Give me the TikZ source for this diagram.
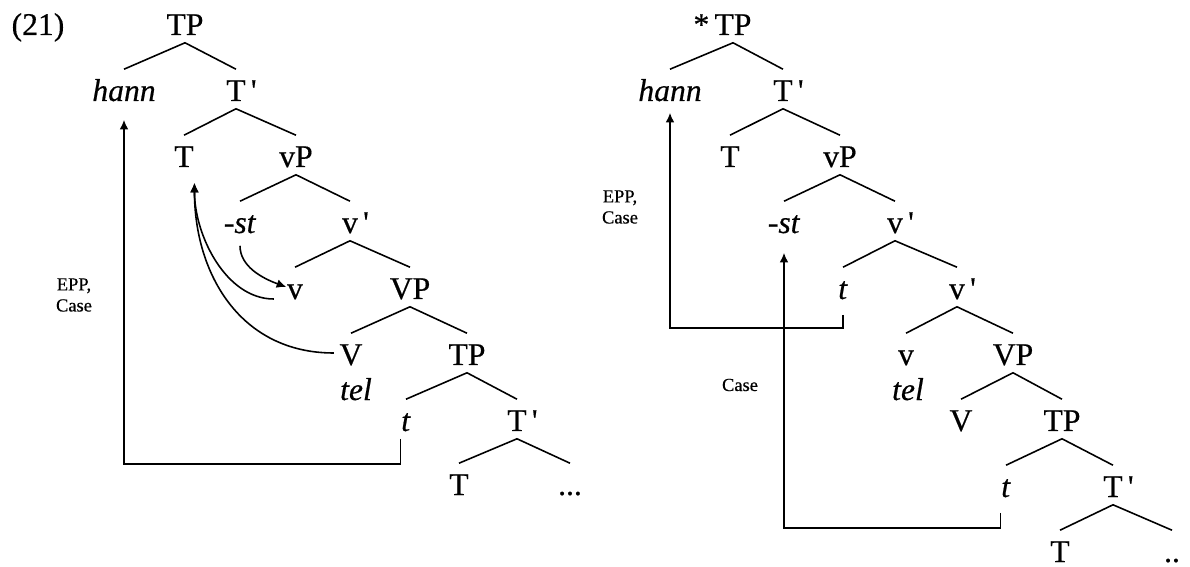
\documentclass[tikz,border=0pt]{standalone}
\usepackage{fontspec}
\setmainfont{Liberation Serif}[FakeBold=0.5]
\usetikzlibrary{arrows.meta}

\begin{document}
\begin{tikzpicture}[
			x=0.02cm, y=-0.02cm,
			cat/.style={inner sep=0pt, anchor=base, text height=0.62cm, text depth=0.14cm, font=\fontsize{18}{20}\selectfont},
			lab/.style={inner sep=0pt, align=center, font=\fontsize{10.5}{12}\selectfont},
			mov/.style={->, line width=0.9pt},
			>={Latex[length=5.5pt,width=5pt]},
			line width=0.9pt
			]
			
			\useasboundingbox (0,0) rectangle (1190,567);
			
			% Árvore da esquerda
			\node[cat] (exA) at (38,35) {(21)};
			\node[cat] (tpA) at (185,35) {TP};
			\node[cat] (hannA) at (124,101) {\textit{hann}};
			\node[cat] (tbA) at (236,101) {T\rlap{\,\textquotesingle}};
			\node[cat] (tA) at (184,167) {T};
			\node[cat] (vpA) at (296,167) {vP};
			\node[cat] (stA) at (240,233) {\textit{-st}};
			\node[cat] (vbA) at (350,233) {v\rlap{\,\textquotesingle}};
			\node[cat] (vA) at (295,299) {v};
			\node[cat] (VPA) at (410,299) {VP};
			\node[cat] (VA) at (351,365) {V};
			\node[cat] (tp2A) at (467,365) {TP};
			\node[cat] (telA) at (356,400) {\textit{tel}};
			\node[cat] (ttA) at (406,431) {\textit{t}};
			\node[cat] (tb2A) at (517,431) {T\rlap{\,\textquotesingle}};
			\node[cat] (t2A) at (459,495) {T};
			\node[cat] (dotsA) at (570,495) {...};
			
			% Ramos
			\draw (hannA.north) -- (tpA.south) -- (tbA.north);
			\draw (tA.north) -- (tbA.south) -- (vpA.north);
			\draw (stA.north) -- (vpA.south) -- (vbA.north);
			\draw (vA.north) -- (vbA.south) -- (VPA.north);
			\draw (VA.north) -- (VPA.south) -- (tp2A.north);
			\draw (ttA.north) -- (tp2A.south) -- (tb2A.north);
			\draw (t2A.north) -- (tb2A.south) -- (dotsA.north);
			
			% Movimentos
			\draw[mov, shorten >=0.22cm] (ttA.south west) -- ++(0,25) -| (hannA.south);
			\draw[mov, shorten <=0.1cm] (stA.south) to[out=-90, in=160] (vA.west);
			\draw[mov, shorten <=0.25cm, shorten >=0.16cm] (vA.base west) to[out=180, in=-90] (tA.south east);
			\draw[mov, shorten <=0.1cm, shorten >=0.16cm] (VA.west) to[out=180, in=-90, looseness=1.1] (tA.south east);
			\node[lab] (eppA) at (74,295) {EPP,\\Case};
			
			% Árvore da direita
			\node[cat] (tpB) at (733,35) {\llap{*\,}TP};
			\node[cat] (hannB) at (670,101) {\textit{hann}};
			\node[cat] (tbB) at (783,101) {T\rlap{\,\textquotesingle}};
			\node[cat] (tB) at (730,167) {T};
			\node[cat] (vpB) at (840,167) {vP};
			\node[cat] (stB) at (784,233) {\textit{-st}};
			\node[cat] (vbB) at (895,233) {v\rlap{\,\textquotesingle}};
			\node[cat] (ttB) at (843,299) {\textit{t}};
			\node[cat] (vb2B) at (957,299) {v\rlap{\,\textquotesingle}};
			\node[cat] (vB) at (906,365) {v};
			\node[cat] (VPB) at (1013,365) {VP};
			\node[cat] (telB) at (908,400) {\textit{tel}};
			\node[cat] (VB) at (961,431) {V};
			\node[cat] (tp2B) at (1062,431) {TP};
			\node[cat] (t3B) at (1006,497) {\textit{t}};
			\node[cat] (tb2B) at (1113,497) {T\rlap{\,\textquotesingle}};
			\node[cat, text depth=0pt] (t4B) at (1060,562) {T};
			\node[cat, text depth=0pt] (dotsB) at (1172,562) {..};
			
			% Ramos
			\draw (hannB.north) -- (tpB.south) -- (tbB.north);
			\draw (tB.north) -- (tbB.south) -- (vpB.north);
			\draw (stB.north) -- (vpB.south) -- (vbB.north);
			\draw (ttB.north) -- (vbB.south) -- (vb2B.north);
			\draw (vB.north) -- (vb2B.south) -- (VPB.north);
			\draw (VB.north) -- (VPB.south) -- (tp2B.north);
			\draw (t3B.north) -- (tp2B.south) -- (tb2B.north);
			\draw (t4B.north) -- (tb2B.south) -- (dotsB.north);
			
			% Movimentos
			\draw[mov, shorten <=0.16cm, shorten >=0.08cm] (ttB.south) -- ++(0,21) -| (hannB.south);
			\draw[mov, shorten <=0.16cm, shorten >=0.24cm] (t3B.south west) -- ++(0,23) -| (stB.south);
			\node[lab] (eppB) at (620,207) {EPP,\\Case};
			\node[lab] (caseB) at (740,385) {Case};
			
		\end{tikzpicture}
\end{document}
